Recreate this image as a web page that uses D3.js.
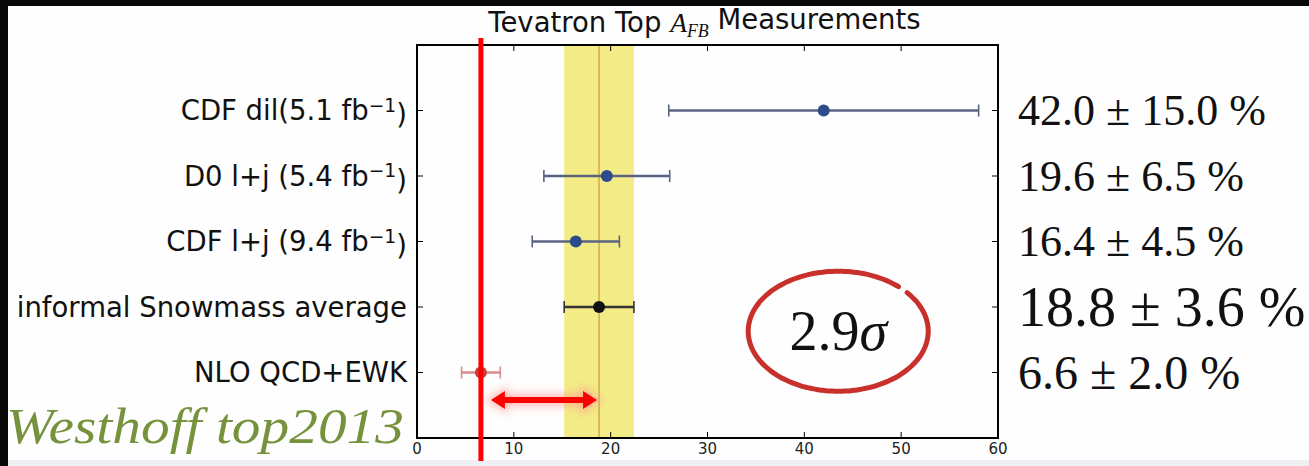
<!DOCTYPE html>
<html>
<head>
<meta charset="utf-8">
<script src="https://cdn.jsdelivr.net/npm/d3@7"></script>
<style>
	body { margin: 0; background: #fff; }
	svg { display: block; }
</style>
</head>
<body>
<div id="chart"></div>
<script>
// measurements, top row first
var labels = ["CDF dil(5.1 fb^−1)", "D0 l+j (5.4 fb^−1)", "CDF l+j (9.4 fb^−1)", "informal Snowmass average", "NLO QCD+EWK"];
var values = [42.0, 19.6, 16.4, 18.8, 6.6];
var quotedErr = [15.0, 6.5, 4.5, 3.6, 2.0];
// half-widths of the bars as they are drawn in the figure
var drawnErr = [16.0, 6.5, 4.5, 3.6, 2.0];
var xTicks = [0, 10, 20, 30, 40, 50, 60];
var sigma = "2.9";

var width = 1309,
	height = 466,
	margin = {top: 45, right: 311, bottom: 28, left: 417};

var avg = 3, nlo = 4;
var labelSize = [27.5, 27.5, 27.5, 27.5, 27.5];
var valueSize = [44, 44, 44, 56, 48];
var dotColor = ["#2c4b8b", "#2c4b8b", "#2c4b8b", "#111", "#c0453c"];
var barColor = ["#5a6480", "#5a6480", "#5a6480", "#333", "#d98a8a"];

var svg = d3.select("#chart").append("svg")
	.attr("width", width)
	.attr("height", height);

var defs = svg.append("defs");
defs.append("filter").attr("id", "glow")
	.attr("x", "-20%").attr("y", "-100%").attr("width", "140%").attr("height", "300%")
	.append("feGaussianBlur").attr("stdDeviation", 4);

// slide background
svg.append("rect").attr("width", width).attr("height", height).attr("fill", "#fefefe");
svg.append("rect").attr("y", 460).attr("width", width).attr("height", 6).attr("fill", "#eef0f3");
svg.append("rect").attr("width", width).attr("height", 6).attr("fill", "#080808");
svg.append("rect").attr("width", 8).attr("height", height).attr("fill", "#080808");

var x = d3.scaleLinear()
	.domain([0, 60])
	.range([margin.left, width - margin.right]);

var y = d3.scaleLinear()
	.domain([-1, 5])
	.range([margin.top, height - margin.bottom]);

var x0 = x.range()[0], x1 = x.range()[1],
	y0 = y.range()[0], y1 = y.range()[1];

// average band + line
svg.append("rect")
	.attr("x", x(values[avg] - quotedErr[avg]))
	.attr("y", y0)
	.attr("width", x(values[avg] + quotedErr[avg]) - x(values[avg] - quotedErr[avg]))
	.attr("height", y1 - y0)
	.attr("fill", "#f3eb86");
svg.append("line")
	.attr("x1", x(values[avg])).attr("x2", x(values[avg]))
	.attr("y1", y0).attr("y2", y1)
	.attr("stroke", "#c99a3a").attr("stroke-width", 1.2);

// error bars
var rows = svg.selectAll("g.row")
	.data(values)
	.enter()
	.append("g")
	.attr("class", "row");

rows.append("line")
	.attr("x1", function(d, i) { return x(d - drawnErr[i]); })
	.attr("x2", function(d, i) { return x(d + drawnErr[i]); })
	.attr("y1", function(d, i) { return y(i); })
	.attr("y2", function(d, i) { return y(i); })
	.attr("stroke", function(d, i) { return barColor[i]; })
	.attr("stroke-width", 2.6);

[-1, 1].forEach(function(s) {
	rows.append("line")
		.attr("x1", function(d, i) { return x(d + s * drawnErr[i]); })
		.attr("x2", function(d, i) { return x(d + s * drawnErr[i]); })
		.attr("y1", function(d, i) { return y(i) - 6; })
		.attr("y2", function(d, i) { return y(i) + 6; })
		.attr("stroke", function(d, i) { return barColor[i]; })
		.attr("stroke-width", 1.6);
});

rows.append("circle")
	.attr("cx", function(d) { return x(d); })
	.attr("cy", function(d, i) { return y(i); })
	.attr("r", 6)
	.attr("fill", function(d, i) { return dotColor[i]; });

// frame + ticks (matplotlib style, inward)
var frame = svg.append("g");
frame.append("rect")
	.attr("x", x0).attr("y", y0)
	.attr("width", x1 - x0).attr("height", y1 - y0)
	.attr("fill", "none").attr("stroke", "#000").attr("stroke-width", 2);

frame.selectAll("line.xt")
	.data(xTicks.slice(1, -1))
	.enter().append("path")
	.attr("d", function(d) {
		return "M" + x(d) + "," + y1 + "v-6M" + x(d) + "," + y0 + "v6";
	})
	.attr("stroke", "#000").attr("stroke-width", 1);

frame.selectAll("line.yt")
	.data(values)
	.enter().append("path")
	.attr("d", function(d, i) {
		return "M" + x0 + "," + y(i) + "h6M" + x1 + "," + y(i) + "h-6";
	})
	.attr("stroke", "#000").attr("stroke-width", 1);

svg.selectAll("text.xt")
	.data(xTicks)
	.enter().append("text")
	.attr("x", function(d) { return x(d); })
	.attr("y", y1 + 16)
	.attr("text-anchor", "middle")
	.style("font", "15px 'DejaVu Sans'")
	.attr("fill", "#222")
	.text(function(d) { return d; });

// left labels
var lab = svg.selectAll("text.lab")
	.data(labels)
	.enter().append("text")
	.attr("x", x0 - 10)
	.attr("y", function(d, i) { return y(i); })
	.attr("dy", "0.36em")
	.attr("text-anchor", "end")
	.attr("fill", "#111")
	.style("font-family", "'DejaVu Sans'")
	.style("font-size", function(d, i) { return labelSize[i] + "px"; });

lab.each(function(d) {
	var t = d3.select(this);
	var parts = d.split("^");
	if (parts.length === 1) { t.text(d); return; }
	t.append("tspan").text(parts[0]);
	t.append("tspan").attr("dy", "-0.45em").style("font-size", "0.68em").text(parts[1].slice(0, -1));
	t.append("tspan").attr("dy", "0.45em").text(parts[1].slice(-1));
});

// right value labels
svg.selectAll("text.val")
	.data(values)
	.enter().append("text")
	.attr("x", x1 + 20)
	.attr("y", function(d, i) { return y(i); })
	.attr("dy", "0.34em")
	.attr("fill", "#111")
	.style("font-family", "'Liberation Serif', serif")
	.style("font-size", function(d, i) { return valueSize[i] + "px"; })
	.text(function(d, i) { return d.toFixed(1) + " ± " + quotedErr[i].toFixed(1) + " %"; });

// title
var title = svg.append("text")
	.attr("x", (x0 + x1) / 2 - 3)
	.attr("y", 32)
	.attr("text-anchor", "middle")
	.attr("fill", "#111")
	.style("font", "27.5px 'DejaVu Sans'");
title.append("tspan").text("Tevatron Top ");
title.append("tspan").style("font-family", "'Liberation Serif'").style("font-style", "italic").text("A");
title.append("tspan").attr("dy", "0.3em").style("font-family", "'Liberation Serif'").style("font-style", "italic").style("font-size", "0.65em").text("FB");
title.append("tspan").attr("dy", "-0.3em").text(" Measurements");

// NLO prediction line
svg.append("line")
	.attr("x1", x(values[nlo])).attr("x2", x(values[nlo]))
	.attr("y1", 38).attr("y2", 461)
	.attr("stroke", "#ff0000").attr("stroke-width", 5);

// arrow between prediction and average
var ay = y(4.42),
	ax0 = x(values[nlo]) + 10,
	ax1 = x(values[avg]) - 2;
function arrowPath() {
	return "M" + ax0 + "," + ay
		+ "l14,-9v6H" + (ax1 - 14) + "v-6l14,9l-14,9v-6H" + (ax0 + 14) + "v6z";
}
svg.append("path").attr("d", arrowPath())
	.attr("fill", "#ff8080").attr("stroke", "#ff9090").attr("stroke-width", 6)
	.attr("opacity", 0.6).attr("filter", "url(#glow)");
svg.append("path").attr("d", arrowPath()).attr("fill", "#ff0000");

// 2.9 sigma circle
var ex = x(43.5), ey = y(3.37), rx = 90, ry = 60;
var gap = -43 * Math.PI / 180;
var pts = d3.range(0, 354, 2).map(function(a) {
	var t = gap + 3 * Math.PI / 180 + a * Math.PI / 180;
	return [ex + rx * Math.cos(t), ey + ry * Math.sin(t)];
});
svg.append("path")
	.attr("d", d3.line().curve(d3.curveCatmullRom)(pts))
	.attr("fill", "none")
	.attr("stroke", "#c8302c")
	.attr("stroke-width", 5)
	.attr("stroke-linecap", "round");

var sig = svg.append("text")
	.attr("x", ex)
	.attr("y", ey)
	.attr("dy", "0.34em")
	.attr("text-anchor", "middle")
	.attr("fill", "#111")
	.style("font", "56px 'Liberation Serif'");
sig.append("tspan").text(sigma);
sig.append("tspan").style("font-style", "italic").text("σ");

// credit
svg.append("text")
	.attr("x", 6)
	.attr("y", 443)
	.attr("fill", "#76923c")
	.attr("textLength", 398)
	.attr("lengthAdjust", "spacingAndGlyphs")
	.style("font", "italic 50px 'Liberation Serif'")
	.text("Westhoff top2013");
</script>
</body>
</html>
